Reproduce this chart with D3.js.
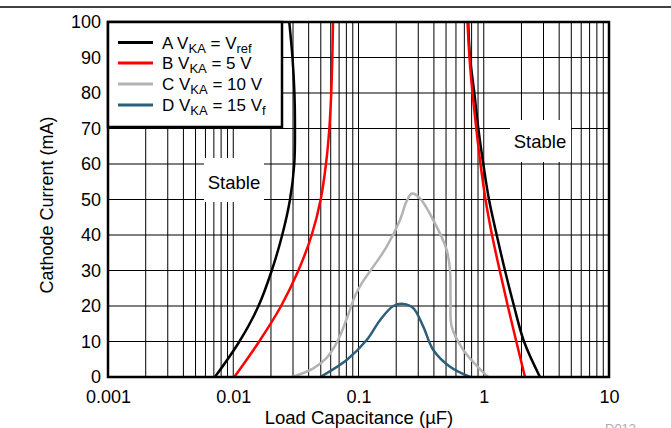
<!DOCTYPE html>
<html>
<head>
<meta charset="utf-8">
<script src="https://cdn.jsdelivr.net/npm/d3@7"></script>
<style>
  body { margin: 0; background: #fff; }
  text { font-family: "Liberation Sans", Arial, sans-serif; fill: #000; }
</style>
</head>
<body>
<script>
// values (capacitance in uF, current in mA)
const currentSteps = [0, 10, 20, 30, 40, 50, 60, 70, 80, 90, 100];
const capA_low = [0.00714, 0.0112, 0.0159, 0.0203, 0.0246, 0.0284, 0.0307, 0.0311, 0.0308, 0.0297, 0.0280];
const capA_high = [2.81, 2.096, 1.744, 1.478, 1.269, 1.101, 0.992, 0.905, 0.841, 0.777, 0.751];
const capB_low = [0.0102, 0.0161, 0.0241, 0.0331, 0.0423, 0.0499, 0.0550, 0.0585, 0.0606, 0.0618, 0.0626];
const capB_high = [2.135, 1.819, 1.556, 1.341, 1.164, 1.033, 0.942, 0.872, 0.813, 0.769, 0.742];

const capC = [0.0295, 0.0436, 0.0557, 0.0686, 0.0809, 0.0938, 0.1066, 0.1313, 0.1679, 0.2145, 0.2427, 0.267, 0.3097, 0.3955, 0.5058, 0.5377, 0.543, 0.5546, 0.687, 0.851, 1.081];
const currentC = [0, 2.45, 5.4, 10.4, 16.6, 22.8, 26.5, 31.1, 36.7, 44.2, 49.6, 51.7, 50.3, 44.2, 35.8, 30.1, 21.7, 14.2, 7.6, 3.7, 0];

const capD = [0.0495, 0.0805, 0.1163, 0.1485, 0.1897, 0.2278, 0.2738, 0.3289, 0.3955, 0.5377, 0.78];
const currentD = [0, 4.8, 10.4, 16, 20, 20.6, 19.4, 14.2, 7.6, 2.9, 0];

const xTickValues = [0.001, 0.01, 0.1, 1, 10];
const xTickLabels = ['0.001', '0.01', '0.1', '1', '10'];
const yTickValues = [0, 10, 20, 30, 40, 50, 60, 70, 80, 90, 100];

const seriesColors = ['#000000', '#ff0000', '#b3b3b3', '#2d5f7a'];
const legendRows = [
  [['A V', 0], ['KA', 1], [' = V', 0], ['ref', 1]],
  [['B V', 0], ['KA', 1], [' = 5 V', 0]],
  [['C V', 0], ['KA', 1], [' = 10 V', 0]],
  [['D V', 0], ['KA', 1], [' = 15 V', 0], ['f', 1]],
];

const width = 671;
const height = 428;
const margin = { top: 22, right: 62, bottom: 51, left: 108 };

const x = d3.scaleLog().domain([0.001, 10]).range([margin.left, width - margin.right]);
const y = d3.scaleLinear().domain([0, 100]).range([height - margin.bottom, margin.top]);

const svg = d3.select('body').append('svg').attr('width', width).attr('height', height);

// header rule
svg.append('line')
  .attr('x1', 0).attr('x2', width).attr('y1', 7).attr('y2', 7)
  .attr('stroke', '#000').attr('stroke-width', 1.5);

// grid
const gridX = [];
for (let e = -3; e < 1; e++) {
  for (let m = 1; m < 10; m++) gridX.push(m * Math.pow(10, e));
}
gridX.push(10);

const grid = svg.append('g');
grid.selectAll('.gx').data(gridX).enter().append('line')
  .attr('x1', (d) => x(d)).attr('x2', (d) => x(d))
  .attr('y1', y(100)).attr('y2', y(0))
  .attr('stroke', '#000').attr('stroke-width', 1);
grid.selectAll('.gy').data(yTickValues).enter().append('line')
  .attr('x1', x(0.001)).attr('x2', x(10))
  .attr('y1', (d) => y(d)).attr('y2', (d) => y(d))
  .attr('stroke', '#000').attr('stroke-width', 1);

// "Stable" labels on white patches
const stableBoxes = [
  { x0: 204, y0: 158, w: 60, h: 44, cx: 234, cy: 182 },
  { x0: 510, y0: 120, w: 61, h: 42, cx: 540, cy: 141 },
];
stableBoxes.forEach((b) => {
  svg.append('rect').attr('x', b.x0).attr('y', b.y0).attr('width', b.w).attr('height', b.h).attr('fill', '#fff');
  svg.append('text').attr('x', b.cx).attr('y', b.cy + 6.5)
    .attr('text-anchor', 'middle').attr('font-size', 18.5).text('Stable');
});

// curves
svg.append('clipPath').attr('id', 'plotclip').append('rect')
  .attr('x', x(0.001)).attr('y', y(100)).attr('width', x(10) - x(0.001)).attr('height', y(0) - y(100));
const curves = svg.append('g').attr('clip-path', 'url(#plotclip)');

const line = d3.line().x((d) => x(d[0])).y((d) => y(d[1])).curve(d3.curveCatmullRom.alpha(0.5));
const zip = (a, b) => a.map((v, i) => [v, b[i]]);

const branches = [
  { pts: zip(capA_low, currentSteps), color: seriesColors[0] },
  { pts: zip(capA_high, currentSteps), color: seriesColors[0] },
  { pts: zip(capB_low, currentSteps), color: seriesColors[1] },
  { pts: zip(capB_high, currentSteps), color: seriesColors[1] },
  { pts: zip(capC, currentC), color: seriesColors[2] },
  { pts: zip(capD, currentD), color: seriesColors[3] },
];
curves.selectAll('path').data(branches).enter().append('path')
  .attr('d', (d) => line(d.pts))
  .attr('fill', 'none')
  .attr('stroke', (d) => d.color)
  .attr('stroke-width', 2.5);

// frame
svg.append('rect')
  .attr('x', x(0.001)).attr('y', y(100))
  .attr('width', x(10) - x(0.001)).attr('height', y(0) - y(100))
  .attr('fill', 'none').attr('stroke', '#000').attr('stroke-width', 2.5);

// axes
const xAxis = svg.append('g').attr('transform', `translate(0,${y(0)})`)
  .call(d3.axisBottom(x).tickValues(xTickValues).tickSize(0).tickPadding(13)
    .tickFormat((d, i) => xTickLabels[i]));
const yAxis = svg.append('g').attr('transform', `translate(${x(0.001)},0)`)
  .call(d3.axisLeft(y).tickValues(yTickValues).tickSize(0).tickPadding(7));
[xAxis, yAxis].forEach((a) => {
  a.select('.domain').remove();
  a.selectAll('text').attr('font-size', 18).attr('font-family', '"Liberation Sans", Arial, sans-serif').attr('fill', '#000');
});

svg.append('text').attr('x', 359).attr('y', 424).attr('text-anchor', 'middle')
  .attr('font-size', 18.5).text('Load Capacitance (\u00b5F)');
svg.append('text').attr('transform', 'translate(53,205) rotate(-90)').attr('text-anchor', 'middle')
  .attr('font-size', 18).text('Cathode Current (mA)');

svg.append('text').attr('x', 605).attr('y', 433).attr('font-size', 13)
  .style('fill', '#aaa').text('D012');

// legend
const legend = svg.append('g');
legend.append('rect').attr('x', 108).attr('y', 22).attr('width', 174).attr('height', 105)
  .attr('fill', '#fff').attr('stroke', '#000').attr('stroke-width', 2.5);
const rowY = [42.5, 63, 84, 105];
legendRows.forEach((row, i) => {
  legend.append('line').attr('x1', 118).attr('x2', 153).attr('y1', rowY[i]).attr('y2', rowY[i])
    .attr('stroke', seriesColors[i]).attr('stroke-width', 3);
  const t = legend.append('text').attr('x', 162).attr('y', rowY[i] + 6).attr('font-size', 17);
  let sub = false;
  row.forEach(([s, isSub]) => {
    const ts = t.append('tspan').text(s);
    if (isSub && !sub) { ts.attr('dy', 4).attr('font-size', 13); sub = true; }
    else if (isSub) { ts.attr('font-size', 13); }
    else if (sub) { ts.attr('dy', -4); sub = false; }
  });
});
</script>
</body>
</html>
